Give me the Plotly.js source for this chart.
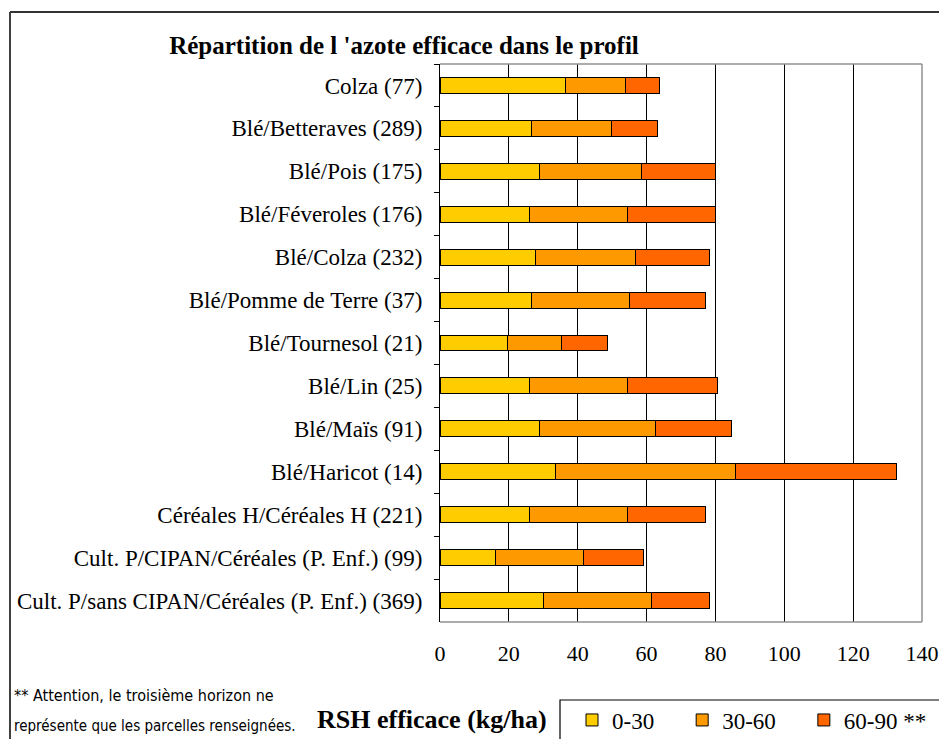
<!DOCTYPE html>
<html>
<head>
<meta charset="utf-8">
<script src="https://cdn.plot.ly/plotly-3.0.1.min.js"></script>
<style>html,body{margin:0;padding:0;background:#fff;}#chart{width:939px;height:739px;}</style>
</head>
<body>
<div id="chart"></div>
<script>
var categories = ["Colza (77)", "Blé/Betteraves (289)", "Blé/Pois (175)", "Blé/Féveroles (176)", "Blé/Colza (232)", "Blé/Pomme de Terre (37)", "Blé/Tournesol (21)", "Blé/Lin (25)", "Blé/Maïs (91)", "Blé/Haricot (14)", "Céréales H/Céréales H (221)", "Cult. P/CIPAN/Céréales (P. Enf.) (99)", "Cult. P/sans CIPAN/Céréales (P. Enf.) (369)"];
var seriesNames = ["0-30", "30-60", "60-90 **"];
var h0_30 = [36.5, 26.5, 29.0, 26.0, 27.8, 26.5, 19.6, 26.0, 29.0, 33.6, 26.0, 16.1, 30.2];
var h30_60 = [17.4, 23.3, 29.6, 28.5, 29.0, 28.6, 15.7, 28.5, 33.6, 52.3, 28.5, 25.7, 31.3];
var h60_90 = [9.9, 13.4, 21.5, 25.6, 21.5, 22.1, 13.4, 26.2, 22.1, 46.6, 22.7, 17.3, 16.8];
var xTicks = [0, 20, 40, 60, 80, 100, 120, 140];
var colors = ["#FFCC00", "#FF9900", "#FF6600"];

var serif = "Liberation Serif";
var narrow = "DejaVu Sans Condensed";

// legend spacing padding (non-breaking spaces after the first two entries)
var legendPad = ["\u00a0\u00a0\u00a0\u00a0", "\u00a0\u00a0\u00a0\u00a0", ""];

var seriesVals = [h0_30, h30_60, h60_90];
var traces = seriesVals.map(function (vals, i) {
  return {
    type: "bar",
    orientation: "h",
    name: seriesNames[i] + legendPad[i],
    y: categories,
    x: vals,
    marker: {color: colors[i], line: {color: "#000", width: 1}},
    hoverinfo: "x+y"
  };
});

// pixel helpers (plot area: x 440..922, y 64..622)
function px(x) { return (x - 440) / 482; }
function py(y) { return (622 - y) / 558; }

var layout = {
  width: 939, height: 739,
  margin: {l: 440, r: 17, t: 64, b: 117, autoexpand: false},
  font: {family: serif, color: "#000"},
  paper_bgcolor: "#fff", plot_bgcolor: "#fff",
  barmode: "stack",
  bargap: 0.63,
  showlegend: true,
  title: {
    text: "<b>Répartition de l 'azote efficace dans le profil</b>",
    font: {family: serif, size: 25, color: "#000"},
    xref: "container", x: 404 / 939, xanchor: "center",
    yref: "container", y: 1 - 45 / 739, yanchor: "middle"
  },
  xaxis: {
    range: [0, 140],
    tickvals: xTicks,
    ticktext: xTicks.map(String),
    showgrid: true, gridcolor: "#000", gridwidth: 1,
    zeroline: false, showline: false,
    ticks: "", ticklabelstandoff: 16,
    tickfont: {family: serif, size: 22, color: "#000"},
    fixedrange: true
  },
  yaxis: {
    type: "category",
    categoryorder: "array", categoryarray: categories,
    autorange: "reversed",
    showgrid: false, zeroline: false,
    showline: true, linecolor: "#000", linewidth: 1,
    ticks: "outside", tickson: "boundaries", ticklen: 5, tickcolor: "#000",
    ticklabelstandoff: 12,
    tickfont: {family: serif, size: 23, color: "#000"},
    fixedrange: true
  },
  legend: {
    orientation: "h", traceorder: "normal",
    x: px(572), xanchor: "left",
    y: py(720), yanchor: "middle",
    font: {family: serif, size: 23, color: "#000"},
    bgcolor: "rgba(0,0,0,0)", borderwidth: 0
  },
  shapes: [
    {type: "line", xref: "paper", yref: "paper", x0: 0, x1: 1, y0: 1, y1: 1, line: {color: "#909090", width: 1.5}},
    {type: "line", xref: "paper", yref: "paper", x0: 1, x1: 1, y0: 0, y1: 1, line: {color: "#909090", width: 1.5}},
    {type: "line", xref: "paper", yref: "paper", x0: 0, x1: 1, y0: 0, y1: 0, line: {color: "#909090", width: 1.5}},
    {type: "line", xref: "paper", yref: "paper", x0: px(10), x1: px(10), y0: py(745), y1: py(12), line: {color: "#000", width: 1.5}},
    {type: "line", xref: "paper", yref: "paper", x0: px(10), x1: px(945), y0: py(12), y1: py(12), line: {color: "#333", width: 2}},
    {type: "rect", xref: "paper", yref: "paper", x0: px(560), x1: px(945), y0: py(745), y1: py(700), line: {color: "#000", width: 1.2}, fillcolor: "rgba(0,0,0,0)"}
  ],
  annotations: [
    {xref: "paper", yref: "paper", x: px(549), y: py(719), xanchor: "right", yanchor: "middle", showarrow: false,
     text: "<b>RSH efficace (kg/ha)</b>", font: {family: serif, size: 26, color: "#000"}},
    {xref: "paper", yref: "paper", x: px(12), y: py(695), xanchor: "left", yanchor: "middle", showarrow: false,
     text: "** Attention, le troisième horizon ne", font: {family: narrow, size: 16, color: "#000"}},
    {xref: "paper", yref: "paper", x: px(12), y: py(726), xanchor: "left", yanchor: "middle", showarrow: false,
     text: "représente que les parcelles renseignées.", font: {family: narrow, size: 15, color: "#000"}}
  ]
};

Plotly.newPlot("chart", traces, layout, {displayModeBar: false, staticPlot: true});
</script>
</body>
</html>
